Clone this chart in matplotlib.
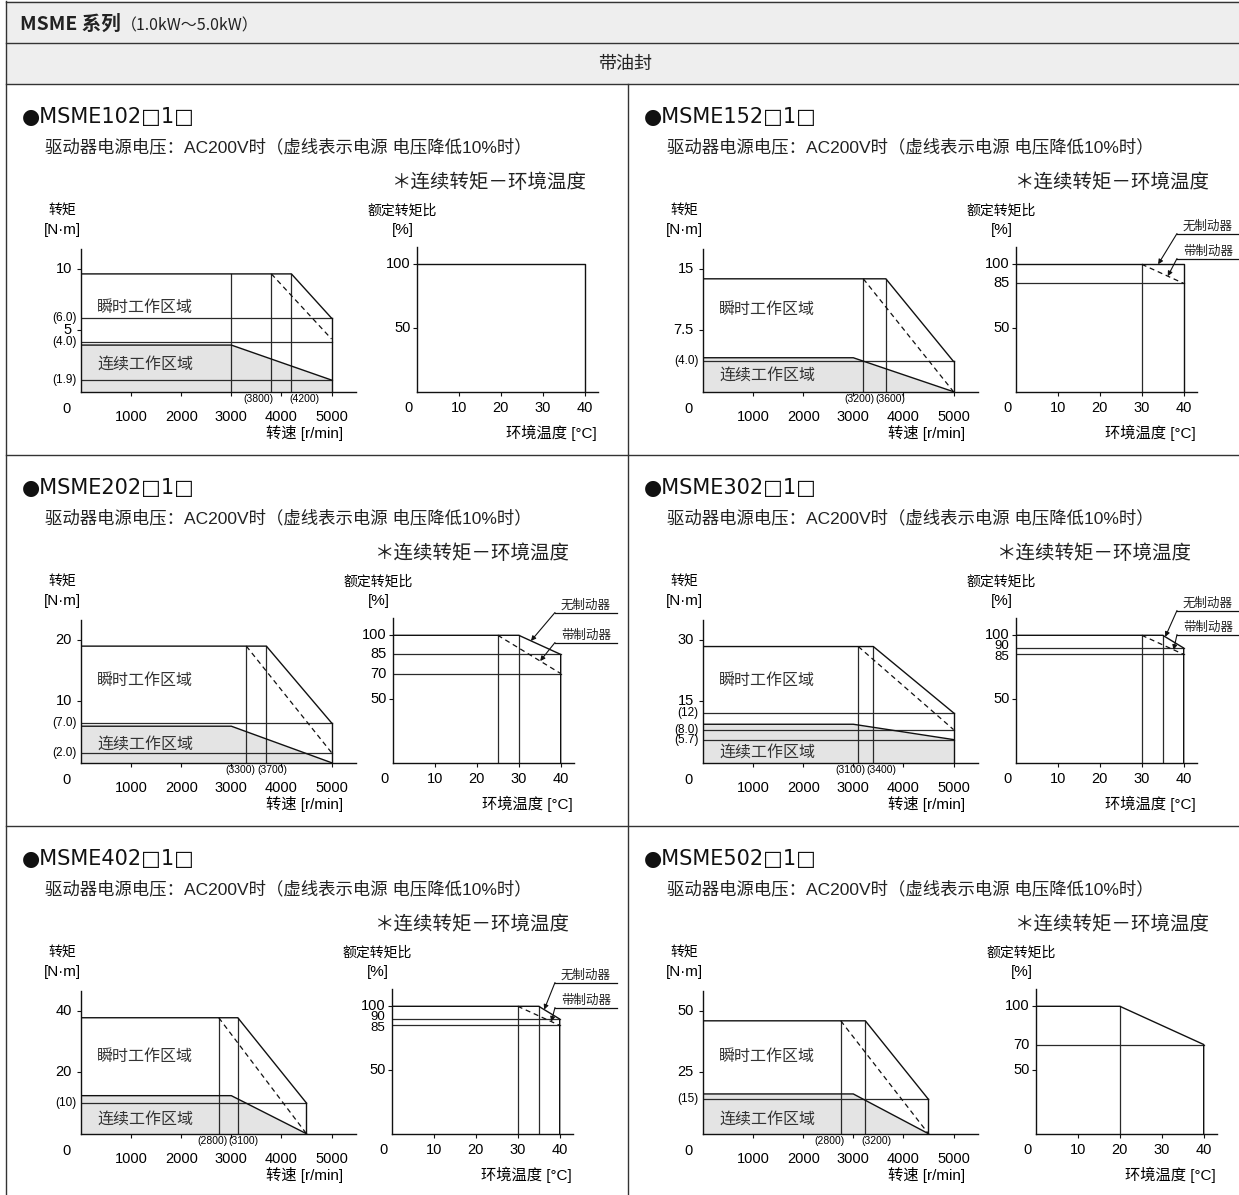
import matplotlib
matplotlib.use('Agg')
import matplotlib.pyplot as plt

W, H = 1239, 1195
plt.rcParams['font.family'] = ['Liberation Sans', 'Noto Sans CJK SC']
NARROW = ['Liberation Sans Narrow', 'Liberation Sans', 'Noto Sans CJK SC']
LC = '#111111'
GC = '#2a2a2a'

# ---------------- data ----------------
models = ['MSME102□1□', 'MSME152□1□', 'MSME202□1□',
          'MSME302□1□', 'MSME402□1□', 'MSME502□1□']
torque_top = [10, 15, 20, 30, 40, 50]
torque_ticks = [[10, 5], [15, 7.5], [20, 10], [30, 15], [40, 20], [50, 25]]
torque_tick_labels = [['10', '5'], ['15', '7.5'], ['20', '10'],
                      ['30', '15'], ['40', '20'], ['50', '25']]
# horizontal reference lines, drawn where the picture shows them
ref_vals = [[6.0, 4.05, 0.95], [3.7], [6.5, 1.65], [12.2, 8.1, 5.65], [10.0], [14.0]]
ref_labels = [['(6.0)', '(4.0)', '(1.9)'], ['(4.0)'], ['(7.0)', '(2.0)'],
              ['(12)', '(8.0)', '(5.7)'], ['(10)'], ['(15)']]
peak_torque = [9.6, 13.8, 19.0, 28.4, 37.8, 46.0]
rated_torque = [3.8, 4.15, 5.95, 9.4, 12.4, 16.2]
rated_knee = [3000, 3000, 3000, 3000, 3000, 3000]
peak_knee = [4200, 3650, 3700, 3400, 3130, 3240]
peak_knee_low = [3800, 3200, 3300, 3100, 2750, 2750]
knee_labels = [('(3800)', '(4200)'), ('(3200)', '(3600)'), ('(3300)', '(3700)'),
               ('(3100)', '(3400)'), ('(2800)', '(3100)'), ('(2800)', '(3200)')]
max_speed = [5000, 5000, 5000, 5000, 4500, 4500]
peak_end = [6.0, 3.7, 6.5, 12.2, 10.0, 14.0]
peak_end_low = [4.3, 0.0, 1.65, 8.1, 0.0, 0.0]
rated_end = [0.95, 0.0, 0.0, 5.65, 0.0, 0.0]
extra_vlines = [[3000], [], [], [], [], []]
speed_ticks = [1000, 2000, 3000, 4000, 5000]

temp_ticks = [[100, 50], [100, 85, 50], [100, 85, 70, 50],
              [100, 90, 85, 50], [100, 90, 85, 50], [100, 70, 50]]
temp_hlines = [[], [85], [85, 70], [90, 85], [90, 85], [70]]
temp_vlines = [[], [30], [25, 30], [30, 35], [30, 35], [20]]
nobrake_t = [[0, 40, 40], [0, 40, 40], [0, 30, 40, 40],
             [0, 35, 40, 40], [0, 35, 40, 40], [0, 20, 40, 40]]
nobrake_r = [[100, 100, 0], [100, 100, 0], [100, 100, 85, 0],
             [100, 100, 90, 0], [100, 100, 90, 0], [100, 100, 70, 0]]
brake_t = [None, [30, 40], [25, 40], [30, 40], [30, 40], None]
brake_r = [None, [100, 85], [100, 70], [100, 85], [100, 85], None]
temp_xticks = [10, 20, 30, 40]
# arrow targets for the 无制动器 / 带制动器 callouts
arrow_nobrake = [None, (33.9, 100), (32.9, 95.6), (35.6, 98.8), (36.3, 97.4), None]
arrow_brake = [None, (36.2, 90.7), (35.1, 79.8), (37.6, 88.6), (38.0, 88.0), None]

# ---------------- layout (pixels) ----------------
col_x = [0, 622]
row_y = [84, 455, 826]
temp_shift = [336, 313, 312, 313, 311, 333]
star_right = [587, 588, 570, 570, 570, 588]
zone1_up = [84, 82, 82, 82, 77, 77]
zone2_up = [28, 17, 19, 11, 15, 15]
callout_y = [None, (142, 167), (150, 180), (148, 172), (149, 174), None]

fig = plt.figure(figsize=(W / 100, H / 100), dpi=100)
bg = fig.add_axes([0, 0, 1, 1])
bg.set_xlim(0, W)
bg.set_ylim(H, 0)
bg.axis('off')


def rect(x0, y0, x1, y1):
    return [x0 / W, 1 - y1 / H, (x1 - x0) / W, (y1 - y0) / H]


# frame and header rows
bg.fill_between([6, W], 1, 84, color='#eeeeee', lw=0)
for y in [1.5, 43.3, 84, 455, 826]:
    bg.plot([6, W], [y, y], color='#333333', lw=1.0)
bg.plot([6, 6], [1, H], color='#333333', lw=1.0)
bg.plot([628, 628], [84, H], color='#333333', lw=1.0)
bg.text(20, 24, 'MSME 系列', fontsize=14, va='center', ha='left',
        family=['Noto Sans CJK SC'], weight='bold', color='#222222')
bg.text(121, 25.5, '（1.0kW～5.0kW）', fontsize=11.5, va='center', ha='left',
        family=['Noto Sans CJK SC'], color='#222222')
bg.text(625, 64, '带油封', fontsize=13, va='center', ha='center',
        family=['Noto Sans CJK SC'], color='#222222')

SX = 0.0501      # px per r/min
TX = 4.1925      # px per degC
TY = 1.274       # px per %

for i in range(6):
    cx = col_x[i % 2]
    ry = row_y[i // 2]
    ox = cx + 81
    oy = ry + 307.7
    tx = cx + 81 + temp_shift[i]

    bg.text(cx + 22, ry + 33, '●' + models[i], fontsize=15, va='center',
            ha='left', family=['DejaVu Sans'], color='#111111')
    bg.text(cx + 45, ry + 63, '驱动器电源电压：AC200V时（虚线表示电源 电压降低10%时）',
            fontsize=12.5, va='center', ha='left', color='#222222')
    bg.text(cx + star_right[i], ry + 98, '＊连续转矩－环境温度', fontsize=14,
            va='center', ha='right', color='#222222', family=['Noto Sans CJK SC'])

    # ---- torque vs speed ----
    top = torque_top[i]
    ax = fig.add_axes(rect(ox, oy - 142.4, ox + 275, oy))
    ax.set_xlim(0, 275 / SX)
    ax.set_ylim(0, top * 142.4 / 122.7)
    ax.patch.set_alpha(0)
    for s in ['top', 'right']:
        ax.spines[s].set_visible(False)
    for s in ['left', 'bottom']:
        ax.spines[s].set_linewidth(1.0)
        ax.spines[s].set_color(LC)
    ax.set_xticks(speed_ticks)
    ax.set_yticks(torque_ticks[i])
    ax.tick_params(length=3, width=0.8, color=LC, labelbottom=False, labelleft=False)

    ms = max_speed[i]
    cont_x = [0, rated_knee[i], ms]
    cont_y = [rated_torque[i], rated_torque[i], rated_end[i]]
    ax.fill_between(cont_x, 0, cont_y, color='#e4e4e4', lw=0, zorder=1)
    ax.plot(cont_x, cont_y, color=LC, lw=1.0, zorder=3)
    ax.plot([0, peak_knee[i], ms], [peak_torque[i], peak_torque[i], peak_end[i]],
            color=LC, lw=1.0, zorder=3)
    ax.plot([ms, ms], [0, peak_end[i]], color=LC, lw=1.0, zorder=3)
    for k in [peak_knee_low[i], peak_knee[i]] + extra_vlines[i]:
        ax.plot([k, k], [0, peak_torque[i]], color=GC, lw=0.9, zorder=2)
    for v in ref_vals[i]:
        ax.plot([0, ms], [v, v], color=GC, lw=0.9, zorder=2)
    ax.plot([peak_knee_low[i], ms], [peak_torque[i], peak_end_low[i]],
            color=LC, lw=0.9, ls=(0, (4, 3)), zorder=3)

    for v, lab in zip(torque_ticks[i], torque_tick_labels[i]):
        ax.annotate(lab, xy=(0, v), xycoords=('axes fraction', 'data'),
                    xytext=(-6.5, 0), textcoords='offset points',
                    ha='right', va='center', fontsize=10.5)
    for v, lab in zip(ref_vals[i], ref_labels[i]):
        ax.annotate(lab, xy=(0, v), xycoords=('axes fraction', 'data'),
                    xytext=(-3.2, 0), textcoords='offset points',
                    ha='right', va='center', fontsize=8.5, family=NARROW)
    for t in speed_ticks:
        ax.annotate(str(t), xy=(t, 0), xycoords=('data', 'axes fraction'),
                    xytext=(0, -18), textcoords='offset points',
                    ha='center', va='center', fontsize=10.5)
    ax.annotate('0', xy=(0, 0), xycoords='axes fraction', xytext=(-10.3, -12.5),
                textcoords='offset points', ha='center', va='center', fontsize=10.5)

    # knee speed labels
    k1, k2 = peak_knee_low[i], peak_knee[i]
    between = [t for t in speed_ticks if k1 < t < k2]
    if between and k2 - k1 >= 390:
        anchor, gap = between[0], 6.0
    else:
        anchor, gap = (k1 + k2) / 2, 0.4
    ax.annotate(knee_labels[i][0], xy=(anchor, 0), xycoords=('data', 'axes fraction'),
                xytext=(-gap, -5.5), textcoords='offset points', ha='right',
                va='center', fontsize=7.5, family=NARROW)
    ax.annotate(knee_labels[i][1], xy=(anchor, 0), xycoords=('data', 'axes fraction'),
                xytext=(gap, -5.5), textcoords='offset points', ha='left',
                va='center', fontsize=7.5, family=NARROW)

    ax.text(ox + 16, oy - zone1_up[i], '瞬时工作区域', fontsize=11.5, va='center',
            ha='left', color='#333333', family=['Noto Sans CJK SC'],
            transform=bg.transData, zorder=5)
    ax.text(ox + 16, oy - zone2_up[i], '连续工作区域', fontsize=11.5, va='center',
            ha='left', color='#333333', family=['Noto Sans CJK SC'],
            transform=bg.transData, zorder=5)
    bg.text(ox - 19, oy - 181, '转矩', fontsize=10, va='center', ha='center')
    bg.text(ox - 19, oy - 162, '[N·m]', fontsize=11, va='center', ha='center')
    bg.text(ox + 5000 * SX + 12, oy + 41.3, '转速 [r/min]', fontsize=11,
            va='center', ha='right')

    # ---- rated torque ratio vs ambient temperature ----
    at = fig.add_axes(rect(tx, oy - 145, tx + 181, oy))
    at.set_xlim(0, 181 / TX)
    at.set_ylim(0, 145 / TY)
    at.patch.set_alpha(0)
    for s in ['top', 'right']:
        at.spines[s].set_visible(False)
    for s in ['left', 'bottom']:
        at.spines[s].set_linewidth(1.0)
        at.spines[s].set_color(LC)
    at.set_xticks(temp_xticks)
    at.set_yticks([100, 50])
    at.tick_params(length=3, width=0.8, color=LC, labelbottom=False, labelleft=False)

    at.plot(nobrake_t[i], nobrake_r[i], color=LC, lw=1.0, zorder=3)
    for v in temp_hlines[i]:
        at.plot([0, 40], [v, v], color=GC, lw=0.9, zorder=2)
    for v in temp_vlines[i]:
        at.plot([v, v], [0, 100], color=GC, lw=0.9, zorder=2)
    if brake_t[i] is not None:
        at.plot(brake_t[i], brake_r[i], color=LC, lw=0.9, ls=(0, (4, 3)), zorder=3)

    tks = temp_ticks[i]
    for j, v in enumerate(tks):
        nudge, fs = 0.0, 10.5
        if j + 1 < len(tks) and v - tks[j + 1] < 8:
            nudge, fs = 1.2, 9.5
        if j > 0 and tks[j - 1] - v < 8:
            nudge, fs = -2.0, 9.5
        at.annotate(str(v), xy=(0, v), xycoords=('axes fraction', 'data'),
                    xytext=(-4.8, nudge), textcoords='offset points',
                    ha='right', va='center', fontsize=fs)
    for t in temp_xticks:
        at.annotate(str(t), xy=(t, 0), xycoords=('data', 'axes fraction'),
                    xytext=(0, -12), textcoords='offset points',
                    ha='center', va='center', fontsize=10.5)
    at.annotate('0', xy=(0, 0), xycoords='axes fraction', xytext=(-5.8, -12),
                textcoords='offset points', ha='center', va='center', fontsize=10.5)

    bg.text(tx - 15, oy - 181, '额定转矩比', fontsize=10, va='center', ha='center')
    bg.text(tx - 14, oy - 162, '[%]', fontsize=11, va='center', ha='center')
    bg.text(tx + 40 * TX + 12, oy + 41.3, '环境温度 [°C]', fontsize=11,
            va='center', ha='right')

    # callouts
    if callout_y[i] is not None:
        for lab, tgt, yy in zip(['无制动器', '带制动器'],
                                [arrow_nobrake[i], arrow_brake[i]], callout_y[i]):
            xr = cx + 611
            bg.text(xr, ry + yy, lab, fontsize=9, va='center', ha='right',
                    family=['Noto Sans CJK SC'], color='#222222')
            xl = xr - 56
            uy = ry + yy + 7.5
            bg.plot([xl, cx + 617], [uy, uy], color=LC, lw=0.9)
            at.annotate('', xy=tgt, xycoords='data',
                        xytext=(xl, H - uy), textcoords='figure pixels',
                        arrowprops=dict(arrowstyle='-|>', color=LC, lw=0.8,
                                        mutation_scale=7, shrinkA=0, shrinkB=0),
                        annotation_clip=False)

fig.savefig('out.png', dpi=100)
